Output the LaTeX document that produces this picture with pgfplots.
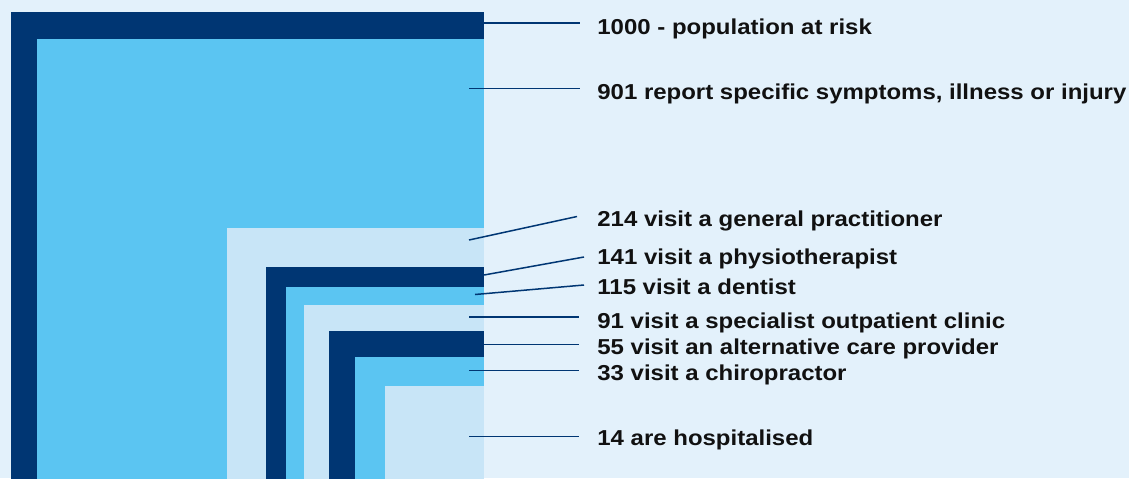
\documentclass[border=0pt]{standalone}
\usepackage{pgfplots}
\pgfplotsset{compat=1.18}
\usepackage{fontspec}
\newfontfamily\lab[FakeStretch=1.11]{Liberation Sans}
\definecolor{navy}{RGB}{0,54,115}
\definecolor{sky}{RGB}{91,197,242}
\definecolor{pale}{RGB}{200,229,247}
\definecolor{bg}{RGB}{227,241,251}
\definecolor{ink}{RGB}{17,17,17}
\begin{document}
\begin{tikzpicture}[
  lbl/.style={anchor=base west, inner sep=0pt, text=ink,
    font=\lab\bfseries\fontsize{10.8pt}{12pt}\selectfont},
  ptr/.style={navy, line width=0.75pt},
]
\begin{axis}[
  scale only axis, width=564.5pt, height=239pt,
  xmin=0, xmax=1129, ymin=0, ymax=478, y dir=reverse,
  axis lines=none, xtick=\empty, ytick=\empty,
  axis background/.style={fill=bg},
  clip=true,
]
% squares: left, top, side (right edge at 484)
\addplot[fill=navy, draw=none] coordinates {(11,12) (484,12) (484,485) (11,485)} -- cycle;   % 1000
\addplot[fill=sky,  draw=none] coordinates {(37,39) (484,39) (484,486) (37,486)} -- cycle;   % 901
\addplot[fill=pale, draw=none] coordinates {(227,228) (484,228) (484,485) (227,485)} -- cycle; % 214
\addplot[fill=navy, draw=none] coordinates {(266,267) (484,267) (484,485) (266,485)} -- cycle; % 141
\addplot[fill=sky,  draw=none] coordinates {(286,287) (484,287) (484,485) (286,485)} -- cycle; % 115
\addplot[fill=pale, draw=none] coordinates {(304,305) (484,305) (484,485) (304,485)} -- cycle; % 91
\addplot[fill=navy, draw=none] coordinates {(329,331) (484,331) (484,486) (329,486)} -- cycle; % 55
\addplot[fill=sky,  draw=none] coordinates {(355,357) (484,357) (484,486) (355,486)} -- cycle; % 33
\addplot[fill=pale, draw=none] coordinates {(385,386) (484,386) (484,485) (385,485)} -- cycle; % 14
% pointer lines
\draw[ptr] (axis cs:484,23) -- (axis cs:580,23);
\draw[ptr] (axis cs:469,88.5) -- (axis cs:580,88.5);
\draw[ptr] (axis cs:469,240) -- (axis cs:577,216.5);
\draw[ptr] (axis cs:484,275) -- (axis cs:584,257);
\draw[ptr] (axis cs:475,294.5) -- (axis cs:584,285);
\draw[ptr] (axis cs:469,317) -- (axis cs:579,317);
\draw[ptr] (axis cs:484,344.3) -- (axis cs:579,344.3);
\draw[ptr] (axis cs:469,370.7) -- (axis cs:579,370.7);
\draw[ptr] (axis cs:469,436.7) -- (axis cs:579,436.7);
% labels
\node[lbl] at (axis cs:597,34) {1000 - population at risk};
\node[lbl] at (axis cs:597,99.5) {901 report specific symptoms, illness or injury};
\node[lbl] at (axis cs:597,226) {214 visit a general practitioner};
\node[lbl] at (axis cs:597,264) {141 visit a physiotherapist};
\node[lbl] at (axis cs:597,294.3) {115 visit a dentist};
\node[lbl] at (axis cs:597,328.3) {91 visit a specialist outpatient clinic};
\node[lbl] at (axis cs:597,354.3) {55 visit an alternative care provider};
\node[lbl] at (axis cs:597,380) {33 visit a chiropractor};
\node[lbl] at (axis cs:597,445) {14 are hospitalised};
\end{axis}
\end{tikzpicture}
\end{document}
